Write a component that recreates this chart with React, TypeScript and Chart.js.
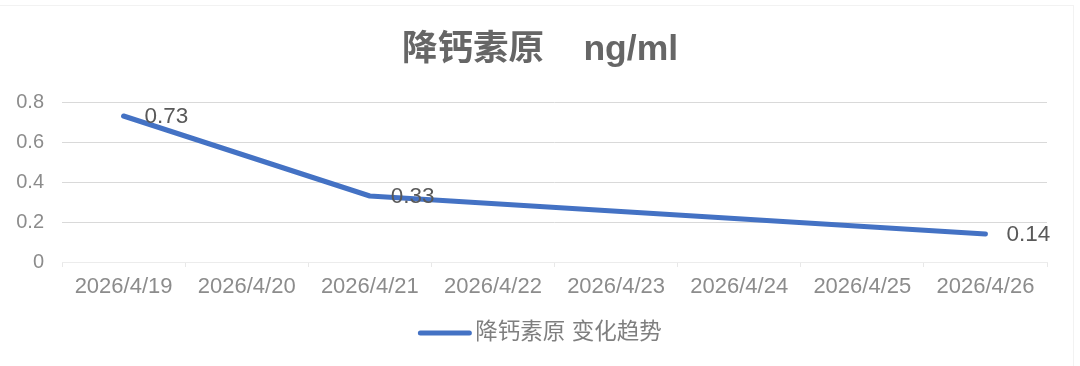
import React, { useEffect, useRef } from "react";
import { Chart, registerables } from "chart.js";

Chart.register(...registerables);

const titleText = "降钙素原    ng/ml";
const seriesName = "降钙素原 变化趋势";
const dates = [
  "2026/4/19",
  "2026/4/20",
  "2026/4/21",
  "2026/4/22",
  "2026/4/23",
  "2026/4/24",
  "2026/4/25",
  "2026/4/26",
];
const values: (number | null)[] = [0.73, null, 0.33, null, null, null, null, 0.14];
const yMin = 0;
const yMax = 0.8;
const yStep = 0.2;

const FONT = '"Liberation Sans", Arial, "Noto Sans CJK SC", sans-serif';
const LINE_COLOR = "#4472C4";

const dataLabelPlugin = {
  id: "dataLabels",
  afterDatasetsDraw(chart: any) {
    const ctx = chart.ctx;
    const meta = chart.getDatasetMeta(0);
    ctx.save();
    ctx.font = `22.5px ${FONT}`;
    ctx.fillStyle = "#595959";
    ctx.textAlign = "left";
    ctx.textBaseline = "middle";
    meta.data.forEach((el: any, i: number) => {
      const v = values[i];
      if (v === null || v === undefined) return;
      ctx.fillText(String(v), el.x + 21, el.y + 1);
    });
    ctx.restore();
  },
};

const legendPlugin = {
  id: "customLegend",
  afterDraw(chart: any) {
    const ctx = chart.ctx;
    ctx.save();
    ctx.font = `22.5px ${FONT}`;
    const tw = ctx.measureText(seriesName).width;
    const lineLen = 53;
    const gap = 4;
    const total = lineLen + gap + tw;
    const startX = chart.width / 2 - total / 2;
    const y = 333;
    ctx.strokeStyle = LINE_COLOR;
    ctx.lineWidth = 5;
    ctx.lineCap = "round";
    ctx.beginPath();
    ctx.moveTo(startX + 2, y);
    ctx.lineTo(startX + lineLen - 2, y);
    ctx.stroke();
    ctx.fillStyle = "#7f7f7f";
    ctx.textAlign = "left";
    ctx.textBaseline = "middle";
    ctx.fillText(seriesName, startX + lineLen + gap, y);
    ctx.restore();
  },
};

export default function App() {
  const canvasRef = useRef<HTMLCanvasElement | null>(null);

  useEffect(() => {
    document.body.style.margin = "0";
    document.body.style.background = "#ffffff";
    const canvas = canvasRef.current;
    if (!canvas) return;
    const chart = new Chart(canvas, {
      type: "line",
      data: {
        labels: dates,
        datasets: [
          {
            label: seriesName,
            data: values,
            borderColor: LINE_COLOR,
            backgroundColor: LINE_COLOR,
            borderWidth: 5,
            borderCapStyle: "round",
            borderJoinStyle: "round",
            pointRadius: 0,
            pointHoverRadius: 0,
            spanGaps: true,
            tension: 0,
            fill: false,
          },
        ],
      },
      options: {
        animation: false,
        responsive: false,
        devicePixelRatio: 1,
        layout: { padding: { left: 0, right: 0, top: 0, bottom: 64 } },
        plugins: {
          legend: { display: false },
          tooltip: { enabled: false },
          title: {
            display: true,
            text: titleText,
            color: "#666666",
            font: { family: FONT, size: 35.5, weight: "bold", lineHeight: 1.2 },
            padding: { top: 28.7, bottom: 30.7 },
          },
        },
        scales: {
          x: {
            type: "category",
            offset: true,
            grid: {
              offset: true,
              drawOnChartArea: false,
              drawTicks: true,
              tickLength: 5,
              color: "#e8e8e8",
            },
            border: { display: true, color: "#ececec", width: 1 },
            ticks: {
              color: "#8c8c8c",
              font: { family: FONT, size: 22 },
              padding: 7,
              maxRotation: 0,
              autoSkip: false,
            },
            afterFit: (scale: any) => {
              scale.height = 40;
            },
          },
          y: {
            min: yMin,
            max: yMax,
            grid: {
              drawTicks: false,
              color: (c: any) => (c.tick && c.tick.value === 0 ? "rgba(0,0,0,0)" : "#d9d9d9"),
              lineWidth: 1,
            },
            border: { display: false },
            ticks: {
              stepSize: yStep,
              color: "#8c8c8c",
              font: { family: FONT, size: 20 },
              padding: 18,
              callback: (v: any) => (Number(v) === 0 ? "0" : Number(v).toFixed(1)),
            },
            afterFit: (scale: any) => {
              scale.width = 62;
            },
          },
          yRightSpace: {
            position: "right",
            min: yMin,
            max: yMax,
            grid: { display: false },
            border: { display: false },
            ticks: { display: false },
            afterFit: (scale: any) => {
              scale.width = 33;
            },
          },
        },
      },
      plugins: [dataLabelPlugin, legendPlugin],
    });
    return () => chart.destroy();
  }, []);

  return (
    <div style={{ position: "relative", width: 1080, height: 366, overflow: "hidden", background: "#fff" }}>
      <div
        style={{
          position: "absolute",
          left: -2,
          top: 5,
          width: 1076,
          height: 400,
          border: "1px solid #f2f2f2",
          boxSizing: "border-box",
        }}
      />
      <canvas ref={canvasRef} width={1080} height={366} style={{ position: "absolute", left: 0, top: 0, width: 1080, height: 366 }} />
    </div>
  );
}
